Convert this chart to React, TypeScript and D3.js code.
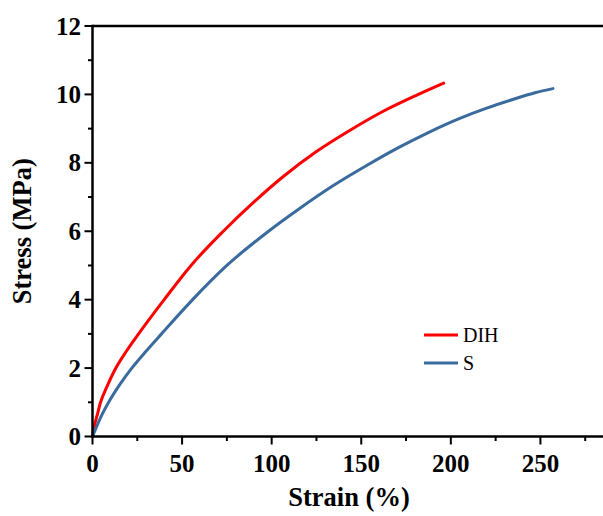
import React from "react";
import * as d3 from "d3";

const dihStrain = [0, 1, 2.5, 4.5, 8, 12.5, 19, 26, 40, 55, 73, 90, 106.5, 125, 144, 162, 181, 196];
const dihStress = [0, 0.3, 0.6, 1, 1.45, 1.95, 2.5, 3.02, 4, 5, 6, 6.85, 7.6, 8.33, 8.96, 9.5, 9.98, 10.33];
const sStrain = [0, 2, 4.5, 9, 15, 21.5, 30, 38.5, 55.5, 75, 97, 116, 134, 153, 171, 188, 205, 220, 235, 247, 257];
const sStress = [0, 0.25, 0.55, 1, 1.5, 1.97, 2.5, 3, 3.98, 5, 5.95, 6.68, 7.32, 7.92, 8.45, 8.9, 9.3, 9.6, 9.86, 10.05, 10.17];
const xTicks = [0, 50, 100, 150, 200, 250];
const yTicks = [0, 2, 4, 6, 8, 10, 12];
const seriesNames = ["DIH", "S"];
const seriesColors = ["#ff0000", "#3a6b9e"];

export default function App() {
  const x = d3.scaleLinear().domain([0, 300]).range([92.5, 630]);
  const y = d3.scaleLinear().domain([0, 12]).range([436.5, 26]);
  const line = d3
    .line<[number, number]>()
    .x((d) => x(d[0]))
    .y((d) => y(d[1]))
    .curve(d3.curveMonotoneX);
  const dih: [number, number][] = dihStrain.map((v, i) => [v, dihStress[i]]);
  const s: [number, number][] = sStrain.map((v, i) => [v, sStress[i]]);
  const xMinor = d3.range(25, 300, 50);
  const yMinor = d3.range(1, 12, 2);
  const font = "'Liberation Serif', 'Times New Roman', serif";
  return (
    <svg
      width={603}
      height={516}
      style={{ position: "absolute", left: 0, top: 0, background: "#fff" }}
      fontFamily={font}
    >
      <rect x={0} y={0} width={603} height={516} fill="#fff" />
      <path d={line(dih) || ""} fill="none" stroke={seriesColors[0]} strokeWidth={3} strokeLinecap="round" />
      <path d={line(s) || ""} fill="none" stroke={seriesColors[1]} strokeWidth={3} strokeLinecap="round" />
      {/* frame */}
      <line x1={x(0)} x2={640} y1={y(0)} y2={y(0)} stroke="#000" strokeWidth={2.5} />
      <line x1={x(0)} x2={640} y1={y(12)} y2={y(12)} stroke="#000" strokeWidth={2.5} />
      <line x1={x(0)} x2={x(0)} y1={y(0) + 1.25} y2={y(12) - 1.25} stroke="#000" strokeWidth={2.5} />
      {/* x ticks */}
      {xTicks.map((t) => (
        <g key={"xt" + t}>
          <line x1={x(t)} x2={x(t)} y1={y(0)} y2={y(0) + 8} stroke="#000" strokeWidth={2} />
          <text x={x(t)} y={472} textAnchor="middle" fontSize={25} fontWeight="bold">
            {t}
          </text>
        </g>
      ))}
      {xMinor.map((t) => (
        <line key={"xm" + t} x1={x(t)} x2={x(t)} y1={y(0)} y2={y(0) + 4.5} stroke="#000" strokeWidth={2} />
      ))}
      {/* y ticks */}
      {yTicks.map((t) => (
        <g key={"yt" + t}>
          <line x1={x(0)} x2={x(0) - 8} y1={y(t)} y2={y(t)} stroke="#000" strokeWidth={2} />
          <text x={81} y={y(t) + 8.5} textAnchor="end" fontSize={25} fontWeight="bold">
            {t}
          </text>
        </g>
      ))}
      {yMinor.map((t) => (
        <line key={"ym" + t} x1={x(0)} x2={x(0) - 4.5} y1={y(t)} y2={y(t)} stroke="#000" strokeWidth={2} />
      ))}
      {/* titles */}
      <text x={349} y={506} textAnchor="middle" fontSize={26.5} fontWeight="bold">
        Strain (%)
      </text>
      <text
        transform={`translate(31, ${y(6)}) rotate(-90)`}
        textAnchor="middle"
        fontSize={26.5}
        fontWeight="bold"
      >
        Stress (MPa)
      </text>
      {/* legend */}
      {seriesNames.map((n, i) => (
        <g key={n} transform={`translate(0, ${335 + i * 28})`}>
          <line x1={424} x2={458} y1={0} y2={0} stroke={seriesColors[i]} strokeWidth={3} />
          <text x={463} y={7} fontSize={20}>
            {n}
          </text>
        </g>
      ))}
    </svg>
  );
}
